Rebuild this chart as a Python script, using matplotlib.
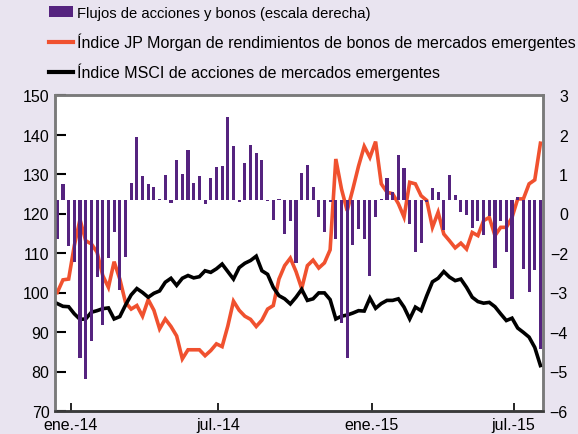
import numpy as np
import matplotlib
matplotlib.use("Agg")
import matplotlib.pyplot as plt
from matplotlib.patches import Patch
from matplotlib.lines import Line2D

plt.rcParams['font.family'] = ['Liberation Sans', 'DejaVu Sans']

# ---- data (weekly, index 0..85) ----
flows = [-1.10, 0.46, -1.29, -1.75, -4.50, -5.09, -4.00, -2.18, -3.56, -1.64,
         -0.89, -2.55, -1.61, 0.49, 1.79, 0.68, 0.46, 0.38, 0.05, 0.72,
         -0.07, 1.15, 0.75, 1.43, 0.49, 0.69, -0.10, 0.64, 0.95, 0.98,
         2.37, 1.55, -0.04, 1.06, 1.58, 1.35, 1.15, -0.03, -0.55, 0.04,
         -0.95, -0.60, -1.78, 0.78, 1.00, 0.37, -0.47, -0.91, -0.06, -1.09,
         -3.50, -4.50, -1.28, -0.81, -1.09, -2.15, -0.48, 0.05, 0.63, 0.23,
         1.29, 0.92, -0.66, -1.46, -1.22, -0.06, 0.35, 0.23, -0.84, 0.72,
         0.15, -0.32, -0.41, -0.80, -0.58, -1.00, -0.44, -1.93, -0.58, -1.48,
         -2.81, 0.09, -1.96, -2.60, -1.98, -4.22]

jpm = [100.0, 103.2, 103.4, 111.9, 118.5, 113.1, 112.3, 110.2, 104.3, 101.3,
       107.8, 103.4, 97.5, 95.8, 96.7, 94.0, 98.2, 95.5, 90.8, 93.3,
       91.4, 89.0, 83.2, 85.5, 85.5, 85.5, 84.0, 85.3, 87.0, 86.3,
       91.5, 97.8, 95.5, 94.0, 93.2, 91.4, 93.0, 95.8, 96.7, 103.4,
       106.8, 108.7, 105.3, 101.0, 106.8, 108.2, 106.2, 107.5, 110.8, 133.8,
       126.2, 120.7, 126.2, 132.0, 137.0, 134.2, 138.2, 127.5, 125.4, 125.0,
       122.5, 119.1, 127.9, 127.5, 124.5, 123.3, 116.5, 120.3, 114.8, 113.1,
       111.3, 112.5, 111.0, 115.2, 114.4, 118.2, 119.0, 114.4, 116.5, 116.5,
       119.0, 123.7, 123.7, 127.5, 128.5, 137.8]

msci = [97.2, 96.5, 96.4, 94.6, 93.2, 93.3, 95.0, 95.4, 95.9, 96.1,
        93.3, 93.9, 96.8, 99.4, 101.0, 100.0, 98.8, 99.8, 100.4, 102.6,
        103.6, 101.8, 103.6, 104.3, 103.7, 104.0, 105.5, 105.1, 106.0, 107.2,
        105.3, 103.4, 106.3, 107.4, 108.1, 109.2, 105.5, 104.6, 101.3, 99.2,
        98.4, 97.1, 98.8, 100.8, 98.0, 98.4, 99.9, 99.9, 98.2, 93.3,
        94.0, 94.3, 94.8, 95.4, 95.3, 98.6, 96.0, 97.2, 98.0, 98.0,
        98.4, 96.3, 93.3, 96.3, 95.4, 99.2, 102.7, 103.6, 105.3, 103.9,
        103.0, 103.4, 101.3, 98.8, 97.7, 97.3, 97.5, 96.4, 94.6, 92.9,
        93.5, 91.0, 89.9, 88.7, 86.1, 81.5]

xtick_pos = [2.41, 28.35, 55.35, 80.28]
xtick_labels = ['ene.-14', 'jul.-14', 'ene.-15', 'jul.-15']
left_ticks = [70, 80, 90, 100, 110, 120, 130, 140, 150]
right_labels = ['\u22126', '\u22125', '\u22124', '\u22123', '\u22122', '0', '1', '2', '3']

legend_labels = ['Flujos de acciones y bonos (escala derecha)',
                 '\u00cdndice JP Morgan de rendimientos de bonos de mercados emergentes',
                 '\u00cdndice MSCI de acciones de mercados emergentes']

# ---- style ----
BG = '#e9e4f0'
PURPLE = '#55237f'
RED = '#f0512f'
FS = 11.5

fig = plt.figure(figsize=(5.78, 4.35), dpi=100, facecolor=BG)
ax = fig.add_axes([55/578, 23/435, 488/578, 316/435])
ax.set_facecolor('white')
ax2 = ax.twinx()

x = np.arange(len(flows))
ax.plot(x, jpm, color=RED, lw=2.6, solid_joinstyle='miter', zorder=2)
ax.plot(x, msci, color='black', lw=2.6, solid_joinstyle='miter', zorder=3)
ax2.bar(x, flows, width=0.55, color=PURPLE, zorder=2)

ax.set_xlim(-0.4, 85.45)
ax.set_ylim(70, 150)
ax2.set_ylim(-6, 3)

ax.set_yticks(left_ticks)
ax.set_yticklabels([str(v) for v in left_ticks])
ax.tick_params(axis='y', direction='in', length=8, width=1.5, color='black',
               labelsize=FS, pad=4)
ax.set_xticks(xtick_pos)
ax.set_xticklabels(xtick_labels)
ax.tick_params(axis='x', direction='in', length=6, width=1.2, color='black',
               labelsize=FS, pad=4.5)

ax2.set_yticks(np.linspace(-6, 3, len(right_labels)))
ax2.set_yticklabels(right_labels)
ax2.tick_params(axis='y', length=0, labelsize=FS, pad=18)
for t in ax2.get_yticklabels():
    t.set_horizontalalignment('right')

for a in (ax, ax2):
    for s in a.spines.values():
        s.set_color('#7a7a7a')
        s.set_linewidth(1.8)
    a.spines['bottom'].set_color('#3a3a3a')

handles = [Patch(facecolor=PURPLE, edgecolor='none'),
           Line2D([0], [0], color=RED, lw=3),
           Line2D([0], [0], color='black', lw=3)]
leg = fig.legend(handles, legend_labels, loc='upper left',
                 bbox_to_anchor=(49/578, 1 - 7/435), frameon=False,
                 fontsize=FS, handlelength=1.5, handletextpad=0.25,
                 labelspacing=0.78, borderpad=0, borderaxespad=0)
leg.get_texts()[0].set_fontsize(10.6)

fig.savefig('out.png', dpi=100, facecolor=BG)
